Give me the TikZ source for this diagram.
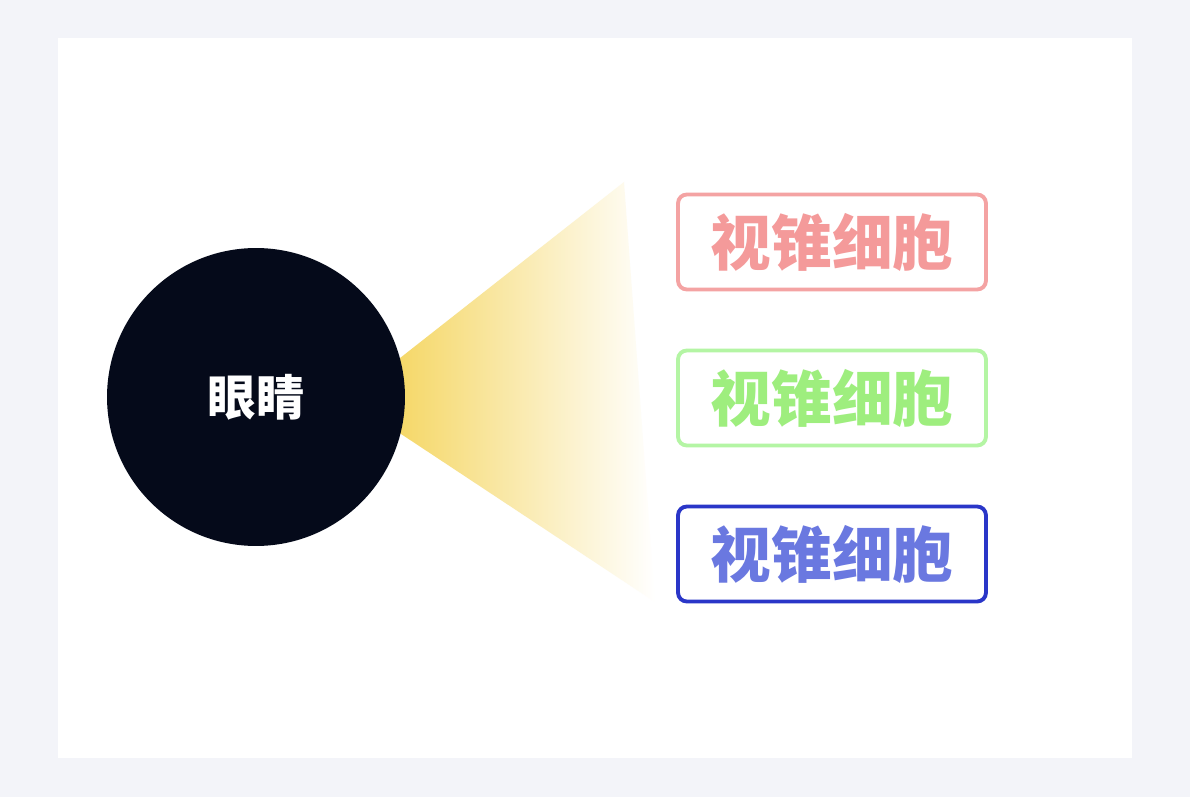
\documentclass[tikz,border=0pt]{standalone}
\usepackage{fontspec}
\newfontfamily\cjk{Noto Sans CJK SC}
\usetikzlibrary{shapes,backgrounds}

\definecolor{pagebg}{HTML}{F3F4F9}
\definecolor{eyeblue}{HTML}{050A1A}
\definecolor{coneyellow}{HTML}{F5D766}
\definecolor{redline}{HTML}{F4A3A3}
\definecolor{redtext}{HTML}{F49A9A}
\definecolor{greenline}{HTML}{B4F5A4}
\definecolor{greentext}{HTML}{9EEE7E}
\definecolor{blueline}{HTML}{2A36C8}
\definecolor{bluetext}{HTML}{6A78E0}

\tikzset{
  conebox/.style={draw, rounded corners=5pt, line width=2.2pt, fill=white,
    minimum width=6.16cm, minimum height=1.9cm,
    font=\cjk\bfseries\fontsize{34.5}{40}\selectfont}
}

\begin{document}
\begin{tikzpicture}[x=0.02cm, y=-0.02cm]
      % page and panel
      \fill [pagebg] (0,0) rectangle (1190,797);
      \useasboundingbox (0,0) rectangle (1190,797);
      \fill [white] (58,38) rectangle (1132,758);
      % light cone
      \shade [left color=coneyellow, right color=white]
        (395,362) -- (624,182) -- (655,602) -- (395,430) -- cycle;
      % the eye
      \node [circle, fill=eyeblue, minimum size=5.96cm, inner sep=0pt,
        text=white, font=\cjk\bfseries\fontsize{27.5}{32}\selectfont] (eye) at (256,397) {眼睛};
      % cone cells
      \node [conebox, draw=redline, text=redtext] (red) at (832,242) {视锥细胞};
      \node [conebox, draw=greenline, text=greentext] (green) at (832,398) {视锥细胞};
      \node [conebox, draw=blueline, text=bluetext] (blue) at (832,554) {视锥细胞};
    \end{tikzpicture}
\end{document}
